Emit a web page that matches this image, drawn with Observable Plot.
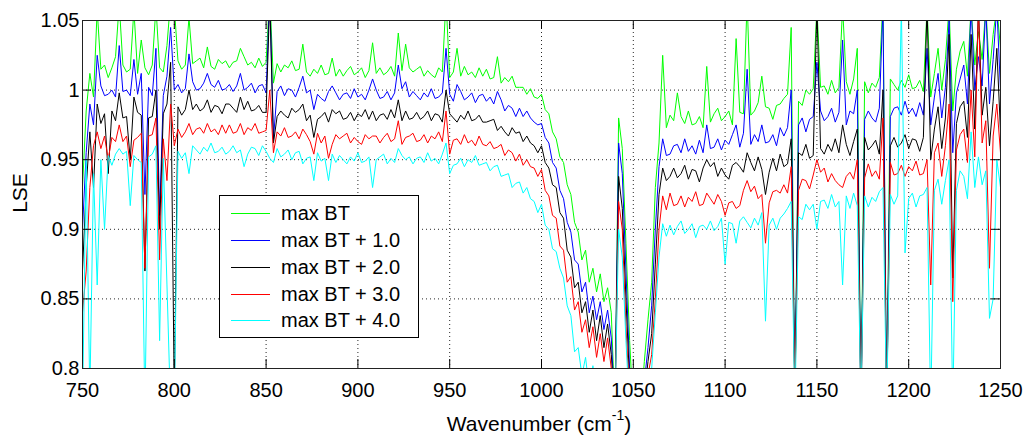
<!DOCTYPE html>
<html>
<head>
<meta charset="utf-8">
<script src="https://cdn.jsdelivr.net/npm/d3@7"></script>
<script src="https://cdn.jsdelivr.net/npm/@observablehq/plot@0.6"></script>
<style>
  body { margin: 0; background: #fff; }
  #wrap { position: relative; width: 1023px; height: 437px; font-family: "Liberation Sans", Arial, Helvetica, sans-serif; color: #000; }
  #wrap svg { display: block; }
  .ylab { position: absolute; left: 19px; top: 193px; font-size: 21px; line-height: 21px; white-space: nowrap; transform: translate(-50%, -50%) rotate(-90deg); }
  .xlab { position: absolute; left: 339px; width: 400px; top: 413px; font-size: 21px; line-height: 21px; text-align: center; white-space: nowrap; }
  .xlab sup { font-size: 14px; position: relative; top: -3px; vertical-align: super; line-height: 0; }
  .legend { position: absolute; left: 219px; top: 195px; width: 200px; height: 143px; box-sizing: border-box; border: 1px solid #000; background: #fff; }
  .legend .row { position: absolute; left: 0; height: 0; }
  .legend .swatch { position: absolute; left: 11px; width: 39px; top: -0.5px; height: 0; border-top: 1px solid; }
  .legend .lbl { position: absolute; left: 61px; top: -11px; font-size: 20px; line-height: 22px; white-space: nowrap; }
</style>
</head>
<body>
<div id="wrap"></div>
<script>
// ---- data ----
const wavenumber = [
750,752,754,756,758,760,762,764,766,768,
770,772,774,776,778,780,782,784,786,788,
790,792,794,796,798,800,802,804,806,808,
810,812,814,816,818,820,822,824,826,828,
830,832,834,836,838,840,842,844,846,848,
850,852,854,856,858,860,862,864,866,868,
870,872,874,876,878,880,882,884,886,888,
890,892,894,896,898,900,902,904,906,908,
910,912,914,916,918,920,922,924,926,928,
930,932,934,936,938,940,942,944,946,948,
950,952,954,956,958,960,962,964,966,968,
970,972,974,976,978,980,982,984,986,988,
990,992,994,996,998,1000,1002,1004,1006,1008,
1010,1012,1014,1016,1018,1020,1022,1024,1026,1028,
1030,1032,1034,1036,1038,1040,1042,1044,1046,1048,
1050,1052,1054,1056,1058,1060,1062,1064,1066,1068,
1070,1072,1074,1076,1078,1080,1082,1084,1086,1088,
1090,1092,1094,1096,1098,1100,1102,1104,1106,1108,
1110,1112,1114,1116,1118,1120,1122,1124,1126,1128,
1130,1132,1134,1136,1138,1140,1142,1144,1146,1148,
1150,1152,1154,1156,1158,1160,1162,1164,1166,1168,
1170,1172,1174,1176,1178,1180,1182,1184,1186,1188,
1190,1192,1194,1196,1198,1200,1202,1204,1206,1208,
1210,1212,1214,1216,1218,1220,1222,1224,1226,1228,
1230,1232,1234,1236,1238,1240,1242,1244,1246,1248,
1250];

const maxBT = [
0.93,0.985,1.012,0.995,1.058,1.015,1.018,1.009,1.016,1.024,
1.062,1.018,1.013,1.015,1.058,1.012,1.036,1.016,1.011,1.018,
1.06,1.016,1.013,1.032,1.065,1.06,1.021,1.015,1.018,1.052,
1.019,1.021,1.023,1.016,1.031,1.017,1.015,1.022,1.019,1.021,
1.016,1.02,1.021,1.03,1.024,1.018,1.02,1.016,1.023,1.017,
1.02,1.07,1.005,1.019,1.013,1.018,1.016,1.021,1.014,1.015,
1.033,1.013,1.01,1.015,1.012,1.018,1.011,1.012,1.023,1.01,
1.015,1.01,1.014,1.017,1.011,1.013,1.016,1.009,1.014,1.034,
1.012,1.016,1.011,1.013,1.017,1.01,1.041,1.014,1.033,1.016,
1.013,1.015,1.017,1.01,1.014,1.011,1.009,1.016,1.013,1.065,
1.009,1.013,1.03,1.01,1.017,1.011,1.013,1.009,1.016,1.01,
1.015,1.008,1.009,1.024,1.005,1.009,1.006,1.01,1.002,1.002,
1.002,0.997,1.001,0.995,0.994,0.997,0.986,0.983,0.97,0.965,
0.952,0.948,0.932,0.925,0.905,0.898,0.878,0.885,0.862,0.872,
0.855,0.868,0.848,0.858,0.84,0.77,0.98,0.958,0.89,0.82,
0.77,0.76,0.77,0.805,0.835,0.862,0.93,0.962,1.025,0.973,
0.982,0.978,0.998,0.981,0.976,0.985,0.975,0.976,0.981,0.973,
1.017,0.977,0.983,0.987,0.978,0.981,0.985,0.975,1.037,0.984,
0.983,1.065,0.982,0.985,0.991,1.01,0.988,0.987,0.979,0.989,
0.99,0.994,0.997,1.045,0.77,0.992,0.989,1.0,0.997,1.001,
1.06,1.002,1.003,0.997,1.007,0.998,1.002,1.06,1.006,0.997,
1.008,1.03,0.77,1.006,0.998,1.005,1.002,1.009,1.065,0.77,
1.008,1.004,1.0,1.007,1.002,1.011,1.001,1.002,1.007,0.999,
1.06,0.995,1.012,1.03,1.0,1.022,1.06,0.985,1.015,1.028,
1.035,1.01,1.06,1.018,1.042,1.022,1.06,1.012,1.04,1.06,
1.03];

const maxBT1 = [
0.90,0.955,0.99,0.975,1.025,1.003,0.996,0.997,1.0,0.995,
1.032,0.999,1.0,0.996,1.022,0.997,1.012,0.925,1.002,0.996,
1.03,0.91,0.996,1.01,1.045,1.0,1.004,0.998,1.001,1.026,
1.006,1.0,1.001,1.005,1.012,1.004,1.002,1.007,1.0,1.001,
1.004,0.999,1.003,1.012,1.0,1.002,1.005,0.998,1.003,1.004,
0.998,1.07,0.965,0.999,1.003,0.996,1.001,1.0,0.995,1.002,
1.01,0.998,1.0,0.986,0.997,0.994,0.992,0.999,1.003,0.998,
0.993,0.997,0.998,0.994,1.001,0.995,0.997,0.993,1.0,1.008,
1.0,0.994,0.995,0.999,0.993,0.998,1.018,1.001,1.006,0.995,
0.999,0.996,0.993,0.998,0.995,1.001,0.994,0.995,0.998,1.03,
0.997,0.992,1.004,0.999,0.993,0.995,0.998,0.991,0.996,0.997,
0.992,0.995,0.99,0.999,0.993,0.985,0.989,0.987,0.981,0.987,
0.981,0.985,0.98,0.977,0.975,0.976,0.966,0.962,0.948,0.944,
0.928,0.922,0.905,0.898,0.878,0.875,0.855,0.862,0.84,0.852,
0.835,0.848,0.828,0.842,0.822,0.77,0.962,0.94,0.87,0.80,
0.76,0.755,0.76,0.79,0.815,0.845,0.9,0.945,0.965,0.953,
0.954,0.96,0.961,0.955,0.965,0.956,0.96,0.954,0.964,0.955,
0.975,0.958,0.959,0.965,0.957,0.964,0.961,0.968,0.975,0.959,
0.969,1.015,0.961,0.968,0.963,0.975,0.962,0.963,0.968,0.96,
0.973,0.967,0.973,1.0,0.78,0.975,0.98,0.97,0.979,0.981,
1.02,0.985,0.978,0.981,0.987,0.977,0.984,1.036,0.975,0.985,
0.983,1.0,0.77,0.979,0.985,0.98,0.977,0.987,1.06,0.77,
0.981,0.987,0.988,0.982,0.992,0.983,0.987,0.981,0.991,0.982,
1.03,0.975,0.995,1.012,0.98,1.002,1.05,0.955,0.998,1.008,
1.018,0.99,1.06,1.0,1.024,1.003,1.06,0.99,1.022,1.06,
1.0];

const maxBT2 = [
0.87,0.93,0.97,0.93,0.99,0.976,0.983,0.94,0.985,0.978,
0.998,0.98,0.981,0.95,0.995,0.984,0.982,0.87,0.98,0.981,
1.0,0.9,0.983,0.99,1.02,0.78,0.988,0.982,0.986,1.0,
0.986,0.99,0.985,0.987,0.993,0.984,0.989,0.988,0.983,0.99,
0.99,0.987,0.984,0.995,0.986,0.992,0.985,0.986,0.989,0.984,
0.984,1.065,0.962,0.981,0.985,0.982,0.98,0.987,0.984,0.986,
0.99,0.978,0.982,0.966,0.979,0.981,0.984,0.977,0.986,0.983,
0.985,0.979,0.98,0.984,0.978,0.983,0.981,0.986,0.979,0.985,
0.978,0.982,0.983,0.979,0.986,0.98,0.993,0.978,0.985,0.979,
0.98,0.984,0.979,0.981,0.985,0.978,0.983,0.982,0.977,1.0,
0.983,0.98,0.977,0.982,0.979,0.985,0.978,0.979,0.982,0.977,
0.977,0.978,0.979,0.971,0.974,0.97,0.967,0.973,0.969,0.97,
0.963,0.967,0.962,0.96,0.955,0.96,0.948,0.944,0.932,0.93,
0.912,0.908,0.885,0.88,0.858,0.862,0.84,0.848,0.826,0.842,
0.82,0.838,0.815,0.832,0.81,0.77,0.938,0.915,0.85,0.79,
0.755,0.75,0.755,0.78,0.805,0.825,0.875,0.925,0.944,0.935,
0.938,0.944,0.937,0.94,0.946,0.936,0.943,0.942,0.934,0.944,
0.95,0.945,0.948,0.938,0.944,0.939,0.936,0.946,0.948,0.945,
0.941,0.955,0.948,0.942,0.952,0.943,0.925,0.941,0.951,0.942,
0.954,0.945,0.947,0.965,0.78,0.955,0.953,0.961,0.951,0.953,
1.06,0.958,0.954,0.961,0.956,0.965,0.955,0.975,0.961,0.953,
0.963,0.972,0.77,0.966,0.957,0.96,0.964,0.954,1.0,0.77,
0.96,0.966,0.959,0.962,0.968,0.958,0.965,0.964,0.956,0.966,
1.06,0.95,0.972,0.988,0.958,0.98,1.04,0.865,0.976,0.988,
0.992,0.966,1.04,0.972,1.06,0.982,1.002,0.96,0.992,1.03,
0.97];

const maxBT3 = [
0.84,0.87,0.93,0.96,0.97,0.958,0.967,0.95,0.966,0.963,
0.975,0.963,0.967,0.945,0.964,0.966,0.969,0.872,0.967,0.968,
0.98,0.878,0.965,0.935,0.99,0.96,0.972,0.966,0.97,0.976,
0.968,0.972,0.973,0.969,0.976,0.97,0.972,0.968,0.975,0.969,
0.975,0.969,0.97,0.976,0.968,0.973,0.971,0.976,0.969,0.97,
0.971,1.0,0.955,0.97,0.967,0.973,0.966,0.967,0.97,0.965,
0.972,0.968,0.963,0.954,0.969,0.962,0.967,0.951,0.961,0.968,
0.965,0.967,0.969,0.962,0.966,0.963,0.961,0.968,0.965,0.967,
0.967,0.962,0.966,0.969,0.963,0.965,0.978,0.961,0.966,0.967,
0.969,0.963,0.964,0.968,0.962,0.967,0.965,0.97,0.963,0.985,
0.954,0.964,0.965,0.961,0.968,0.962,0.964,0.96,0.967,0.961,
0.96,0.963,0.958,0.959,0.961,0.953,0.957,0.955,0.949,0.954,
0.946,0.95,0.945,0.944,0.938,0.943,0.928,0.924,0.91,0.908,
0.888,0.885,0.862,0.866,0.842,0.848,0.826,0.835,0.815,0.83,
0.808,0.825,0.805,0.822,0.8,0.77,0.92,0.9,0.83,0.78,
0.75,0.745,0.75,0.77,0.795,0.81,0.85,0.9,0.924,0.914,
0.926,0.917,0.918,0.924,0.916,0.923,0.92,0.927,0.917,0.918,
0.926,0.922,0.918,0.925,0.92,0.91,0.919,0.92,0.915,0.917,
0.928,0.935,0.927,0.931,0.922,0.925,0.89,0.919,0.927,0.928,
0.926,0.932,0.926,0.945,0.78,0.928,0.936,0.935,0.929,0.939,
0.95,0.941,0.944,0.934,0.94,0.935,0.932,0.93,0.938,0.941,
0.936,0.95,0.77,0.937,0.947,0.938,0.942,0.936,0.98,0.77,
0.948,0.939,0.94,0.946,0.938,0.945,0.942,0.949,0.939,0.94,
0.95,0.86,0.955,0.962,0.938,0.96,0.99,0.848,0.957,0.968,
0.972,0.948,1.0,0.952,1.06,0.962,0.978,0.872,0.967,0.99,
0.955];

const maxBT4 = [
0.77,0.95,0.78,0.94,0.86,0.95,0.90,0.953,0.946,0.954,
0.958,0.954,0.956,0.917,0.953,0.95,0.948,0.77,0.952,0.954,
0.96,0.82,0.951,0.86,0.77,0.77,0.956,0.951,0.955,0.94,
0.96,0.957,0.954,0.959,0.956,0.962,0.955,0.956,0.959,0.954,
0.956,0.96,0.955,0.957,0.945,0.954,0.959,0.958,0.953,0.96,
0.956,0.951,0.948,0.958,0.952,0.954,0.957,0.95,0.955,0.956,
0.947,0.951,0.952,0.935,0.955,0.949,0.951,0.935,0.954,0.948,
0.953,0.95,0.947,0.952,0.949,0.955,0.948,0.949,0.952,0.93,
0.95,0.952,0.954,0.947,0.951,0.948,0.958,0.953,0.95,0.952,
0.947,0.951,0.952,0.948,0.955,0.949,0.951,0.947,0.954,0.962,
0.94,0.946,0.947,0.951,0.945,0.95,0.948,0.953,0.946,0.947,
0.948,0.942,0.945,0.946,0.938,0.939,0.94,0.93,0.933,0.934,
0.926,0.93,0.922,0.92,0.912,0.918,0.903,0.9,0.886,0.884,
0.872,0.865,0.845,0.838,0.812,0.815,0.795,0.808,0.785,0.802,
0.782,0.798,0.78,0.795,0.775,0.77,0.9,0.88,0.82,0.77,
0.745,0.74,0.745,0.76,0.785,0.8,0.84,0.88,0.904,0.895,
0.903,0.896,0.902,0.906,0.897,0.9,0.904,0.894,0.902,0.903,
0.9,0.906,0.899,0.902,0.908,0.875,0.905,0.904,0.89,0.906,
0.909,0.905,0.901,0.908,0.903,0.912,0.834,0.903,0.908,0.9,
0.908,0.911,0.915,0.92,0.77,0.909,0.907,0.918,0.914,0.918,
0.9,0.92,0.921,0.915,0.925,0.916,0.92,0.86,0.924,0.915,
0.926,0.917,0.77,0.924,0.916,0.923,0.92,0.927,0.93,0.77,
0.925,0.918,0.924,1.06,0.883,0.922,0.926,0.916,0.924,0.925,
0.93,0.77,0.928,0.936,0.918,0.935,0.95,0.77,0.928,0.942,
0.938,0.922,0.97,0.93,0.952,0.932,0.942,0.836,0.85,0.95,
0.93];

const seriesNames = ["max BT", "max BT + 1.0", "max BT + 2.0", "max BT + 3.0", "max BT + 4.0"];
const seriesColors = ["#00ff00", "#0000ff", "#000000", "#ff0000", "#00ffff"];
const seriesValues = [maxBT, maxBT1, maxBT2, maxBT3, maxBT4];

const xTicks = [750, 800, 850, 900, 950, 1000, 1050, 1100, 1150, 1200, 1250];
const yTicks = [0.8, 0.85, 0.9, 0.95, 1, 1.05];
const xLabel = "Wavenumber (cm";
const xLabelSup = "-1";
const yLabel = "LSE";

// ---- layout ----
const W = 1023, H = 437, mL = 82, mR = 23, mT = 20, mB = 69, tickLen = 9;
const pw = W - mL - mR, ph = H - mT - mB;

const chart = Plot.plot({
  width: W, height: H,
  marginLeft: mL, marginRight: mR, marginTop: mT, marginBottom: mB,
  style: { fontFamily: '"Liberation Sans", Arial, Helvetica, sans-serif', fontSize: "20px", color: "#000", background: "#fff" },
  x: { domain: [750, 1250], label: null },
  y: { domain: [0.8, 1.05], label: null },
  marks: [
    Plot.gridX(xTicks, { stroke: "#000", strokeOpacity: 0.85, strokeDasharray: "1,3" }),
    Plot.gridY(yTicks, { stroke: "#000", strokeOpacity: 0.85, strokeDasharray: "1,3" }),
    ...seriesValues.map((vals, k) => Plot.line(vals, { x: wavenumber, y: d => d, stroke: seriesColors[k], strokeWidth: 1, clip: true })),
    Plot.ruleX(xTicks, { stroke: "#000", insetTop: ph - tickLen }),
    Plot.ruleX(xTicks, { stroke: "#000", insetBottom: ph - tickLen }),
    Plot.ruleY(yTicks, { stroke: "#000", insetRight: pw - tickLen }),
    Plot.ruleY(yTicks, { stroke: "#000", insetLeft: pw - tickLen }),
    Plot.frame({ stroke: "#222" }),
    Plot.axisX(xTicks, { tickSize: 0, tickPadding: 14, label: null, tickFormat: d => String(d) }),
    Plot.axisY(yTicks, { tickSize: 0, tickPadding: 3, label: null, tickFormat: d => String(d) })
  ]
});

const wrap = document.getElementById("wrap");
wrap.appendChild(chart);

const yl = document.createElement("div");
yl.className = "ylab"; yl.textContent = yLabel; wrap.appendChild(yl);

const xl = document.createElement("div");
xl.className = "xlab";
xl.appendChild(document.createTextNode(xLabel));
const sup = document.createElement("sup"); sup.textContent = xLabelSup; xl.appendChild(sup);
xl.appendChild(document.createTextNode(")"));
wrap.appendChild(xl);

const leg = document.createElement("div");
leg.className = "legend";
const rowY = [17, 44, 71, 98, 124];
seriesNames.forEach((name, i) => {
  const row = document.createElement("div");
  row.className = "row"; row.style.top = rowY[i] + "px";
  const sw = document.createElement("div");
  sw.className = "swatch"; sw.style.borderTopColor = seriesColors[i];
  const lb = document.createElement("div");
  lb.className = "lbl"; lb.textContent = name;
  row.appendChild(sw); row.appendChild(lb);
  leg.appendChild(row);
});
wrap.appendChild(leg);
</script>
</body>
</html>
